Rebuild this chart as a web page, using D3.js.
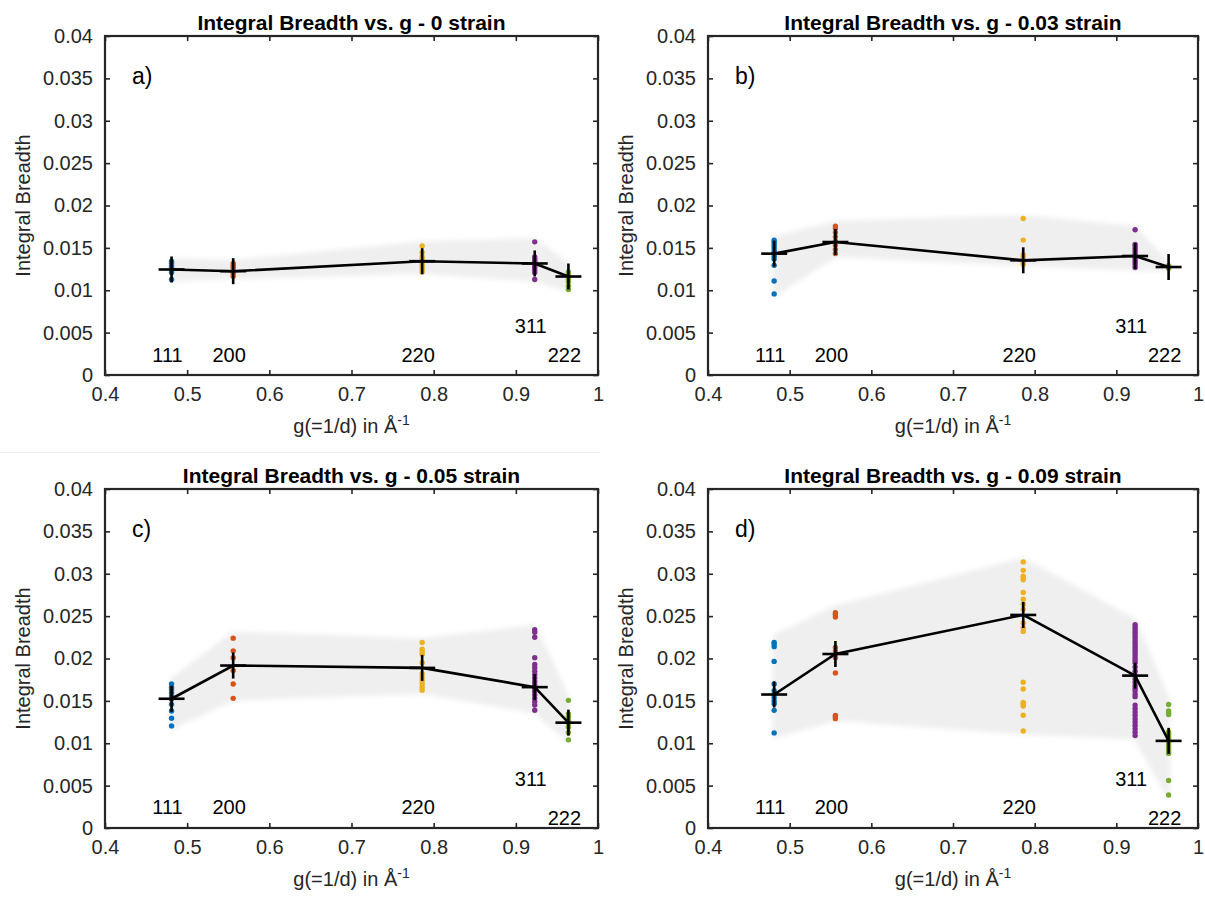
<!DOCTYPE html>
<html>
<head>
<meta charset="utf-8">
<script src="https://cdn.jsdelivr.net/npm/d3@7/dist/d3.min.js"></script>
<style>
  body { margin: 0; background: #fff; }
  svg { display: block; font-family: "Liberation Sans", Arial, Helvetica, sans-serif; }
</style>
</head>
<body>
<div id="chart"></div>
<script>
var width = 1205,
  height = 897;

// peak positions (g = 1/d) and reflection names
var gPos = [0.481, 0.556, 0.786, 0.923, 0.964];
var peakNames = ["111", "200", "220", "311", "222"];
var peakColors = ["#0072BD", "#D95319", "#EDB120", "#7E2F8E", "#77AC30"];
var strains = ["0", "0.03", "0.05", "0.09"];
var letters = ["a)", "b)", "c)", "d)"];

var xTicks = [0.4, 0.5, 0.6, 0.7, 0.8, 0.9, 1];
var yTicks = [0, 0.005, 0.01, 0.015, 0.02, 0.025, 0.03, 0.035, 0.04];

// panel a - 0 strain
var meanA = [0.01245, 0.01225, 0.01343, 0.01316, 0.01162];
var bandHiA = [0.0136, 0.0134, 0.0156, 0.016, 0.013];
var bandLoA = [0.0112, 0.0115, 0.0121, 0.0112, 0.01];
var dotsA = [
  [0.01343, 0.0132, 0.0129, 0.0127, 0.0125, 0.0123, 0.0121, 0.01126],
  [0.01316, 0.0129, 0.0127, 0.0124, 0.0122, 0.012, 0.01165],
  [0.01524, 0.01446, 0.014, 0.0137, 0.0134, 0.0131, 0.0128, 0.0125, 0.01216],
  [0.01571, 0.01394, 0.0137, 0.0135, 0.0133, 0.0131, 0.0129, 0.0127, 0.0124, 0.0121, 0.01126],
  [0.01216, 0.0119, 0.0116, 0.0113, 0.011, 0.0105, 0.01008]
];

// panel b - 0.03 strain
var meanB = [0.01432, 0.01569, 0.01353, 0.01404, 0.01274];
var bandHiB = [0.0162, 0.018, 0.0187, 0.0174, 0.0131];
var bandLoB = [0.0094, 0.0141, 0.013, 0.0125, 0.0124];
var dotsB = [
  [0.01592, 0.0157, 0.0155, 0.0152, 0.0149, 0.0146, 0.0143, 0.014, 0.0137, 0.01294, 0.0111, 0.00957],
  [0.01757, 0.0173, 0.0168, 0.0163, 0.0158, 0.0153, 0.0148, 0.01432],
  [0.01847, 0.01592, 0.0142, 0.0139, 0.0136, 0.0133, 0.01306],
  [0.01714, 0.01541, 0.0151, 0.0148, 0.0145, 0.0142, 0.0139, 0.0136, 0.0133, 0.013, 0.01267],
  [0.0129, 0.0128, 0.0127, 0.0126]
];

// panel c - 0.05 strain
var meanC = [0.01525, 0.01917, 0.01889, 0.01662, 0.01243];
var bandHiC = [0.0175, 0.023, 0.0222, 0.0238, 0.0153];
var bandLoC = [0.0118, 0.0152, 0.016, 0.0137, 0.0103];
var dotsC = [
  [0.01701, 0.01662, 0.01634, 0.01595, 0.01557, 0.01518, 0.01459, 0.01381, 0.01295, 0.01205],
  [0.0224, 0.0209, 0.0201, 0.01858, 0.017, 0.0153],
  [0.0219, 0.0211, 0.0208, 0.0205, 0.0195, 0.0182, 0.0178, 0.0174, 0.017, 0.0166, 0.01626],
  [0.0234, 0.0231, 0.0225, 0.0201, 0.0193, 0.0189, 0.0185, 0.0181, 0.0177, 0.0173, 0.0169, 0.0165, 0.0161, 0.0157, 0.0153, 0.0149, 0.0145, 0.0139],
  [0.01506, 0.01345, 0.0131, 0.0127, 0.0123, 0.0119, 0.01126, 0.0104]
];

// panel d - 0.09 strain
var meanD = [0.01575, 0.02053, 0.02514, 0.01798, 0.01028];
var bandHiD = [0.0226, 0.0261, 0.0317, 0.0245, 0.0151];
var bandLoD = [0.0108, 0.0128, 0.0112, 0.0106, 0.0037];
var dotsD = [
  [0.0219, 0.0217, 0.0214, 0.01966, 0.017, 0.0162, 0.0158, 0.0154, 0.015, 0.01466, 0.01388, 0.01122],
  [0.0254, 0.0252, 0.0249, 0.0213, 0.0209, 0.0205, 0.0201, 0.0183, 0.01329, 0.0131, 0.0129],
  [0.0314, 0.0304, 0.0297, 0.0295, 0.0293, 0.0278, 0.027, 0.0264, 0.0258, 0.0242, 0.0236, 0.0232, 0.0172, 0.0164, 0.0148, 0.0146, 0.0144, 0.0133, 0.01145],
  [0.0240, 0.0237, 0.0234, 0.0231, 0.0228, 0.0225, 0.0222, 0.0219, 0.0216, 0.0213, 0.021, 0.0207, 0.0204, 0.0201, 0.0198, 0.0195, 0.019, 0.0185, 0.018, 0.0176, 0.0172, 0.0168, 0.0165, 0.0162, 0.0158, 0.0155, 0.0145, 0.0141, 0.0137, 0.0133, 0.0129, 0.0125, 0.0121, 0.0117, 0.0113, 0.0109],
  [0.01458, 0.0138, 0.0136, 0.0134, 0.01133, 0.0111, 0.0108, 0.0105, 0.0102, 0.0099, 0.0096, 0.0093, 0.009, 0.0088, 0.0056, 0.0039]
];

// height (in data units) where the reflection names sit
var nameLevelTop = [0.0015, 0.0015, 0.0015, 0.0049, 0.0015];
var nameLevelBottom = [0.0017, 0.0017, 0.0017, 0.005, 0.0003];

var panels = [
  { mean: meanA, hi: bandHiA, lo: bandLoA, dots: dotsA, names: nameLevelTop },
  { mean: meanB, hi: bandHiB, lo: bandLoB, dots: dotsB, names: nameLevelTop },
  { mean: meanC, hi: bandHiC, lo: bandLoC, dots: dotsC, names: nameLevelBottom },
  { mean: meanD, hi: bandHiD, lo: bandLoD, dots: dotsD, names: nameLevelBottom }
];

var lefts = [105, 708],
  widths = [493, 490],
  tops = [36, 489],
  ph = 339;
var axisColor = "#262626";

var svg = d3
  .select("#chart")
  .append("svg")
  .attr("width", width)
  .attr("height", height);

var defs = svg.append("defs");
defs
  .append("filter")
  .attr("id", "soft")
  .attr("x", "-10%")
  .attr("y", "-20%")
  .attr("width", "120%")
  .attr("height", "140%")
  .append("feGaussianBlur")
  .attr("stdDeviation", 2.5);

// faint separator between the two rows (left column)
svg
  .append("line")
  .attr("x1", 0)
  .attr("x2", 600)
  .attr("y1", 452.5)
  .attr("y2", 452.5)
  .style("stroke", "#ececec")
  .style("stroke-width", 1);

var fmtY = function(d) {
  return d === 0 ? "0" : String(+d.toFixed(3));
};
var fmtX = function(d) {
  return String(+d.toFixed(1));
};

panels.forEach(function(p, i) {
  var left = lefts[i % 2],
    pw = widths[i % 2],
    top = tops[Math.floor(i / 2)];

  var x = d3.scaleLinear().domain([0.4, 1]).range([0, pw]);
  var y = d3.scaleLinear().domain([0, 0.04]).range([ph, 0]);

  var g = svg.append("g").attr("transform", "translate(" + left + "," + top + ")");

  // shaded min/max band
  var bandData = gPos.map(function(gv, k) {
    return { g: gv, lo: p.lo[k], hi: p.hi[k] };
  });
  var area = d3
    .area()
    .x(function(d) { return x(d.g); })
    .y0(function(d) { return y(d.lo); })
    .y1(function(d) { return y(d.hi); });
  g.append("path")
    .datum(bandData)
    .attr("d", area)
    .attr("filter", "url(#soft)")
    .style("fill", "#efefef")
    .style("stroke", "#efefef")
    .style("stroke-width", 3);

  // individual measurements
  p.dots.forEach(function(col, k) {
    g.selectAll(".dot" + k)
      .data(col)
      .enter()
      .append("circle")
      .attr("class", "dot" + k)
      .attr("cx", x(gPos[k]))
      .attr("cy", function(d) { return y(d); })
      .attr("r", 2.7)
      .style("fill", peakColors[k]);
  });

  // mean line
  var meanData = gPos.map(function(gv, k) {
    return { g: gv, v: p.mean[k] };
  });
  var line = d3
    .line()
    .x(function(d) { return x(d.g); })
    .y(function(d) { return y(d.v); });
  g.append("path")
    .datum(meanData)
    .attr("d", line)
    .style("fill", "none")
    .style("stroke", "#000")
    .style("stroke-width", 2.6);

  // '+' markers
  var ms = 13;
  var marks = g.selectAll(".mark").data(meanData).enter().append("g").attr("class", "mark");
  marks
    .append("line")
    .attr("x1", function(d) { return x(d.g) - ms; })
    .attr("x2", function(d) { return x(d.g) + ms; })
    .attr("y1", function(d) { return y(d.v); })
    .attr("y2", function(d) { return y(d.v); });
  marks
    .append("line")
    .attr("x1", function(d) { return x(d.g); })
    .attr("x2", function(d) { return x(d.g); })
    .attr("y1", function(d) { return y(d.v) - ms; })
    .attr("y2", function(d) { return y(d.v) + ms; });
  marks.selectAll("line").style("stroke", "#000").style("stroke-width", 2.6);

  // reflection names
  g.selectAll(".pname")
    .data(peakNames)
    .enter()
    .append("text")
    .attr("class", "pname")
    .attr("x", function(d, k) { return x(gPos[k]) - 4; })
    .attr("y", function(d, k) { return y(p.names[k]); })
    .attr("text-anchor", "middle")
    .style("font-size", "20px")
    .style("fill", "#000")
    .text(function(d) { return d; });

  // axes (box with mirrored inward ticks)
  var tick = 5;
  var axB = g.append("g").attr("transform", "translate(0," + ph + ")")
    .call(d3.axisBottom(x).tickValues(xTicks).tickFormat(fmtX).tickSizeInner(-tick).tickSizeOuter(0).tickPadding(12));
  var axL = g.append("g")
    .call(d3.axisLeft(y).tickValues(yTicks).tickFormat(fmtY).tickSizeInner(-tick).tickSizeOuter(0).tickPadding(12));
  var axT = g.append("g")
    .call(d3.axisTop(x).tickValues(xTicks).tickFormat("").tickSizeInner(-tick).tickSizeOuter(0));
  var axR = g.append("g").attr("transform", "translate(" + pw + ",0)")
    .call(d3.axisRight(y).tickValues(yTicks).tickFormat("").tickSizeInner(-tick).tickSizeOuter(0));
  [axB, axL, axT, axR].forEach(function(a) {
    a.select(".domain").remove();
    a.selectAll("line").style("stroke", axisColor).style("stroke-width", 1.6);
    a.selectAll("text").style("font-size", "20px").style("fill", axisColor).style("font-family", null);
  });
  g.append("rect")
    .attr("width", pw)
    .attr("height", ph)
    .style("fill", "none")
    .style("stroke", axisColor)
    .style("stroke-width", 2.2);

  // panel letter
  g.append("text")
    .attr("x", 27)
    .attr("y", 48)
    .style("font-size", "23px")
    .style("fill", "#000")
    .text(letters[i]);

  // title
  g.append("text")
    .attr("x", pw / 2)
    .attr("y", -6)
    .attr("text-anchor", "middle")
    .style("font-size", "21px")
    .style("font-weight", "bold")
    .style("fill", "#000")
    .text("Integral Breadth vs. g - " + strains[i] + " strain");

  // axis labels
  var xl = g.append("text")
    .attr("x", pw / 2)
    .attr("y", ph + 58)
    .attr("text-anchor", "middle")
    .style("font-size", "20px")
    .style("fill", axisColor);
  xl.append("tspan").text("g(=1/d) in Å");
  xl.append("tspan").attr("dy", -8).style("font-size", "14px").text("-1");

  g.append("text")
    .attr("transform", "translate(-75," + ph / 2 + ") rotate(-90)")
    .attr("text-anchor", "middle")
    .style("font-size", "20px")
    .style("fill", axisColor)
    .text("Integral Breadth");
});
</script>
</body>
</html>
